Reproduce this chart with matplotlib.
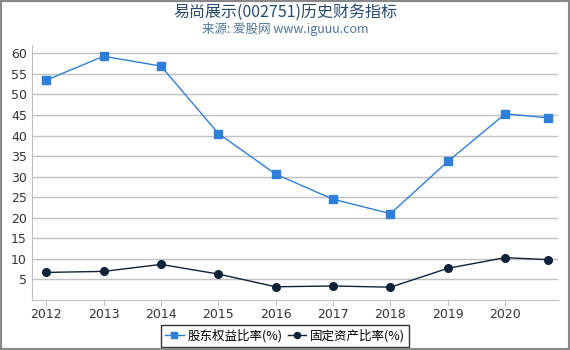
import numpy as np
import matplotlib
matplotlib.use('Agg')
import matplotlib.pyplot as plt
from matplotlib.patches import Rectangle

plt.rcParams['font.family'] = ['Noto Sans CJK SC', 'DejaVu Sans']

# ── Datos ─────────────────────────────────────────────
x_pos   = [2012, 2013, 2014, 2015, 2016, 2017, 2018, 2019, 2020, 2020.75]
equity  = [53.5, 59.3, 56.9, 40.5, 30.6, 24.5, 21.0, 33.7, 45.3, 44.3]
fixed   = [6.7, 6.95, 8.65, 6.3, 3.2, 3.4, 3.1, 7.7, 10.3, 9.8]
xticks  = [2012, 2013, 2014, 2015, 2016, 2017, 2018, 2019, 2020]
yticks  = [5, 10, 15, 20, 25, 30, 35, 40, 45, 50, 55, 60]

BLUE = '#2f7ed8'; NAVY = '#0d233a'; GRIDC = '#c0c0c0'; TXT = '#333333'

fig = plt.figure(figsize=(5.7, 3.5), dpi=100)
ax = fig.add_axes([0.057, 0.143, 0.922, 0.728])

ax.plot(x_pos, equity, color=BLUE, lw=1, marker='s', ms=5.5, label='股东权益比率(%)', zorder=3)
ax.plot(x_pos, fixed, color=NAVY, lw=1, marker='o', ms=5.5, label='固定资产比率(%)', zorder=3)

ax.set_xlim(2011.76, 2020.92)
ax.set_ylim(0, 62)
ax.set_xticks(xticks)
ax.set_xticklabels([str(x) for x in xticks], fontsize=9, color=TXT, family='DejaVu Sans')
ax.set_yticks(yticks)
ax.set_yticklabels([str(y) for y in yticks], fontsize=9, color=TXT, family='DejaVu Sans')
ax.yaxis.grid(True, color=GRIDC, lw=1)
ax.set_axisbelow(True)
for s in ['top', 'right']:
    ax.spines[s].set_visible(False)
ax.spines['left'].set_color(GRIDC)
ax.spines['bottom'].set_color(GRIDC)
ax.tick_params(axis='y', length=0, pad=4)
ax.tick_params(axis='x', length=4, color=GRIDC, pad=2)

fig.text(0.5, 0.965, '易尚展示(002751)历史财务指标', ha='center', va='center',
         fontsize=11.5, color='#274b6d')
fig.text(0.5, 0.918, '来源: 爱股网 www.iguuu.com', ha='center', va='center',
         fontsize=9, color='#4d759e')

leg = fig.legend(loc='center', bbox_to_anchor=(0.5, 0.04), ncol=2, fontsize=9,
                 frameon=True, fancybox=False, edgecolor='black', handlelength=1.5,
                 handletextpad=0.3, columnspacing=0.4, borderpad=0.3, markerscale=0.8)
leg.get_frame().set_linewidth(1)

fig.patches.append(Rectangle((0, 0), 1, 1, transform=fig.transFigure, fill=False,
                             edgecolor='#888888', lw=3, zorder=10))

fig.savefig('out.png', dpi=100)
